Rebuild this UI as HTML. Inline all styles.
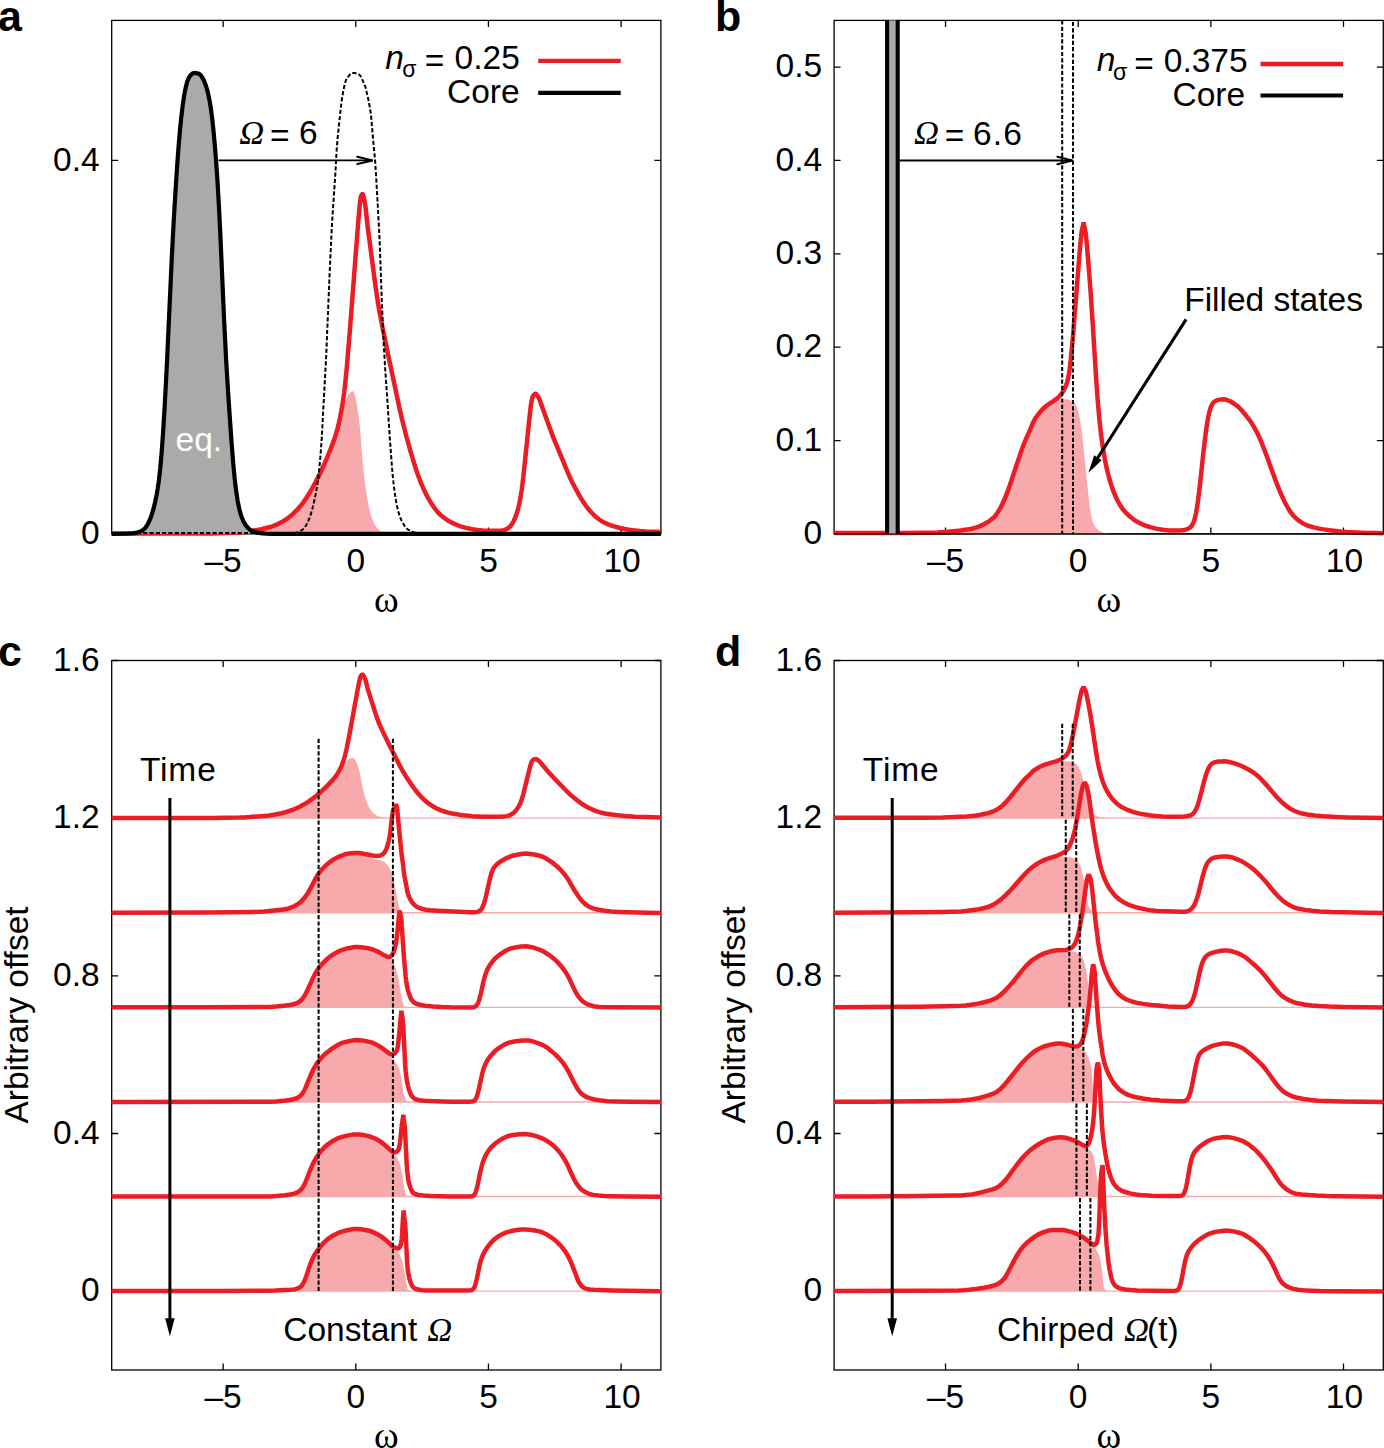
<!DOCTYPE html>
<html><head><meta charset="utf-8"><style>html,body{margin:0;padding:0;background:#fff;}svg{display:block}</style></head>
<body><svg width="1384" height="1448" viewBox="0 0 1384 1448">
<rect width="1384" height="1448" fill="#fff"/>
<rect x="111.7" y="20.4" width="549.2" height="513.5" fill="none" stroke="#000" stroke-width="1.3"/>
<path d="M223.13 20.4v6.5M223.13 533.9v-6.5M355.79 20.4v6.5M355.79 533.9v-6.5M488.45 20.4v6.5M488.45 533.9v-6.5M621.1 20.4v6.5M621.1 533.9v-6.5M111.7 533.9h6.5M660.9 533.9h-6.5M111.7 160.45h6.5M660.9 160.45h-6.5" stroke="#000" stroke-width="1.3" fill="none"/>
<rect x="834.1" y="20.4" width="549.2" height="513.5" fill="none" stroke="#000" stroke-width="1.3"/>
<path d="M945.53 20.4v6.5M945.53 533.9v-6.5M1078.19 20.4v6.5M1078.19 533.9v-6.5M1210.85 20.4v6.5M1210.85 533.9v-6.5M1343.5 20.4v6.5M1343.5 533.9v-6.5M834.1 533.9h6.5M1383.3 533.9h-6.5M834.1 440.54h6.5M1383.3 440.54h-6.5M834.1 347.17h6.5M1383.3 347.17h-6.5M834.1 253.81h6.5M1383.3 253.81h-6.5M834.1 160.45h6.5M1383.3 160.45h-6.5M834.1 67.08h6.5M1383.3 67.08h-6.5" stroke="#000" stroke-width="1.3" fill="none"/>
<rect x="111.7" y="660.5" width="549.2" height="709.5" fill="none" stroke="#000" stroke-width="1.3"/>
<path d="M223.13 660.5v6.5M223.13 1370v-6.5M355.79 660.5v6.5M355.79 1370v-6.5M488.45 660.5v6.5M488.45 1370v-6.5M621.1 660.5v6.5M621.1 1370v-6.5M111.7 1291.17h6.5M660.9 1291.17h-6.5M111.7 1133.5h6.5M660.9 1133.5h-6.5M111.7 975.83h6.5M660.9 975.83h-6.5M111.7 818.17h6.5M660.9 818.17h-6.5M111.7 660.5h6.5M660.9 660.5h-6.5" stroke="#000" stroke-width="1.3" fill="none"/>
<rect x="834.1" y="660.5" width="549.2" height="709.5" fill="none" stroke="#000" stroke-width="1.3"/>
<path d="M945.53 660.5v6.5M945.53 1370v-6.5M1078.19 660.5v6.5M1078.19 1370v-6.5M1210.85 660.5v6.5M1210.85 1370v-6.5M1343.5 660.5v6.5M1343.5 1370v-6.5M834.1 1291.17h6.5M1383.3 1291.17h-6.5M834.1 1133.5h6.5M1383.3 1133.5h-6.5M834.1 975.83h6.5M1383.3 975.83h-6.5M834.1 818.17h6.5M1383.3 818.17h-6.5M834.1 660.5h6.5M1383.3 660.5h-6.5" stroke="#000" stroke-width="1.3" fill="none"/>
<path d="M111.7 533.6L206.2 533.5L224.7 533.1L235.2 532.7L241.2 532.4L246.7 531.8L254.7 530.5L261.7 529.1L267.2 527.8L271.2 526.7L275.2 525.2L279.2 523.4L283.2 521.2L285.7 519.7L287.7 518.2L292.2 514.5L294.7 512.2L296.7 510.2L300.7 505.7L304.2 501.2L307.7 496L311.2 490.1L315.7 481.9L320.7 472L323.2 466.6L325.7 461L328.2 455L331.2 447.5L333.7 440.8L335.2 436.4L336.7 431.5L337.7 427.8L339.7 419.3L341.7 409L342.7 403L343.7 396.2L344.2 404.4L345.2 401.5L346.2 399L347.2 396.9L348.2 395.1L349.2 393.8L350.7 392.1L351.7 391.4L352.2 391.2L352.7 391.3L353.2 391.6L353.7 392.2L354.7 394L355.2 395.7L356.7 403.2L358.2 412.8L359.7 425.2L362.7 462.2L364.2 476.8L365.2 484.9L366.7 495.1L367.7 500.9L369.2 508.3L370.7 514.5L371.7 517.6L373.2 521.4L374.7 524.5L376.7 527.6L378.2 529.4L379.2 530.3L380.2 531L382.7 532.5L384.2 533L386.2 533.4L390.7 533.8L394.7 533.9L660.9 533.9 L660.9 533.9 L111.7 533.9Z" fill="#f7a9ac" stroke="none" stroke-width="0" stroke-linejoin="round" stroke-miterlimit="2.5" stroke-linecap="round" />
<path d="M111.7 533.6L193.2 533.5L212.7 533.4L226.2 533L239.2 532.5L244.2 532.1L249.7 531.3L261.2 529.2L265.2 528.3L269.2 527.3L272.2 526.3L275.2 525.2L278.7 523.6L281.7 522.1L284.7 520.3L287.2 518.6L290.2 516.3L293.2 513.6L296.2 510.7L298.7 508.1L301.2 505.1L303.7 501.9L306.2 498.3L309.2 493.5L312.2 488.3L315.7 481.9L318.7 476.1L321.7 469.9L324.7 463.3L327.2 457.4L330.2 450L332.7 443.5L334.7 437.9L336.2 433.2L337.7 427.8L338.7 423.8L340.2 416.9L341.2 411.7L342.7 403L344.2 392.3L345.2 383.8L346.7 368.6L349.7 332.6L358.2 222.3L359.7 205.6L360.2 200.6L360.7 197.4L361.2 195.9L361.7 194.7L362.2 194.1L362.7 194.2L363.2 195.3L364.2 199.4L365.2 204.8L365.7 208.6L367.7 226.9L374.7 280.2L377.2 297.9L379.2 310.2L382.2 326L388.7 357.5L399.2 406.8L402.2 420L406.2 435.8L411.2 453.7L415.7 468.4L417.7 474.3L419.7 479.7L421.7 484.6L424.2 490.3L426.7 495.4L428.7 499.1L430.7 502.4L433.2 506.2L435.7 509.6L438.2 512.6L441.2 515.6L444.2 518L448.2 520.7L452.2 522.9L457.2 525.1L462.2 526.9L466.2 527.9L472.2 529.2L477.7 530L482.7 530.4L494.7 530.8L498.7 530.8L500.7 530.7L502.2 530.5L503.7 530.1L505.2 529.6L506.7 529L508.7 527.8L509.7 526.9L510.7 525.8L512.2 523.7L513.7 521L515.2 517.6L516.2 514.9L517.2 511.9L518.2 508.3L519.2 504.2L520.2 499.3L521.7 490L523.2 478.1L529.7 415.4L530.7 406.7L531.7 400.4L532.2 398.2L532.7 396.7L533.2 395.8L534.2 394.6L534.7 394.1L535.2 393.9L535.7 393.8L536.2 394L536.7 394.5L537.2 395.2L538.7 397.8L539.7 399.9L548.2 423.8L553.2 437.1L556.2 444.5L562.2 458.8L567.2 471.2L570.2 478L572.2 482.2L575.2 487.9L578.7 494.4L581.2 498.7L583.2 501.9L585.7 505.5L588.2 508.8L590.7 511.7L593.2 514.3L596.2 517.1L599.2 519.5L601.7 521.2L604.7 522.8L607.7 524.1L611.2 525.5L615.2 526.7L620.2 528L624.7 529L629.2 529.8L634.7 530.5L640.2 531.1L645.7 531.5L654.2 531.8L660.9 532" fill="none" stroke="#ec1c24" stroke-width="4.5" stroke-linejoin="round" stroke-miterlimit="2.5" stroke-linecap="butt" />
<path d="M115 533.9L128 533.7L132 533.4L135.5 532.9L138 532.4L140.5 531.4L142.5 530.3L143.5 529.6L144.5 528.7L145.5 527.6L146.5 526.2L148 523.7L149.5 520.6L151 516.8L152.5 512.2L154 506.7L155.5 500.3L157 492.7L158 486.6L159 479.4L160.5 465.8L162 448.1L163.5 426.1L165 400.5L167 362.1L171.5 263.8L173.5 224.7L175 199.1L176.5 175.6L178 154L179.5 135.3L181 119.8L182.5 106.9L184 96.5L185 90.9L186 86.4L187.5 80.9L188.5 78.5L189.5 76.7L190.5 75.3L192 73.9L193 73.2L193.5 73L194.5 72.9L196.5 73.1L198.5 73.6L199.5 74.1L200.5 74.9L202 77.1L203.5 79.8L205 83.3L206 86.1L207 89.4L208 93.3L209 97.7L210 103L211 109.3L212 116.9L213.5 130.6L215 147.2L216 159.8L217.5 181.6L218.5 198.4L220.5 237.7L223.5 306.5L225 338.5L226.5 366.1L229 405.6L232 448.3L234 471.9L235 481.6L236 489.9L237 496.9L238.5 505.3L239.5 509.7L241 515L242.5 519.1L244 522.3L245.5 524.9L246.5 526.3L247.5 527.5L248.5 528.5L249.5 529.3L251.5 530.6L254 531.8L256.5 532.5L259.5 533L263.5 533.5L267 533.7L270.5 533.8L290 533.9 L290 533.9 L115 533.9Z" fill="#aaaaaa" stroke="none" stroke-width="0" stroke-linejoin="round" stroke-miterlimit="2.5" stroke-linecap="round" />
<path d="M111.7 533.1L293.2 533.1L295.7 532.7L297.7 532.2L300.2 531.1L302.2 529.9L303.2 529.2L304.2 528.1L305.2 526.8L306.7 524.2L308.2 521.2L309.2 518.9L310.7 514.6L312.2 509.3L313.7 503.4L315.7 494.2L317.2 485.6L318.2 478.5L319.2 469.6L320.7 452.9L321.7 438.6L326.2 355.9L329.7 271.9L331.7 229.4L332.7 212.7L335.2 176.1L336.7 149L337.7 137.1L340.7 108.7L341.7 100.3L343.2 91.5L344.7 84.3L345.7 80.9L346.2 79.7L348.2 76.6L349.7 74.8L350.7 73.9L351.7 73.2L352.2 73L353.2 72.9L355.2 73.1L357.2 73.6L358.7 74.2L359.7 75L360.7 76.4L361.7 78.2L364.2 83.8L365.2 86.5L366.2 90.1L368.2 98.9L369.7 106.6L370.7 113.2L371.2 117.3L373.2 140.7L374.7 156L375.2 162.1L376.2 177.8L378.7 222.2L379.7 242.4L381.7 298.8L383.7 344.1L385.2 369.3L387.2 397.9L389.7 436.4L391.7 463.5L392.7 475.4L393.7 484.7L395.2 496L396.7 504.8L398.2 511.1L399.2 514.6L400.2 517.5L401.7 520.9L403.2 523.6L404.2 525.3L405.7 527.3L406.7 528.4L407.7 529.3L409.7 530.5L412.2 531.7L414.2 532.4L415.7 532.7L418.7 533.1L660.7 533.1" fill="none" stroke="#000" stroke-width="2" stroke-linejoin="round" stroke-miterlimit="2.5" stroke-linecap="butt" stroke-dasharray="4.2 2.1"/>
<path d="M111.7 533.9L126.7 533.7L130.7 533.5L134.2 533.1L137.2 532.6L139.7 531.8L141.7 530.8L143.7 529.4L144.7 528.5L145.7 527.3L147.2 525.1L148.2 523.3L149.2 521.3L150.7 517.6L152.2 513.2L153.7 507.9L155.2 501.7L156.7 494.3L157.7 488.5L158.7 481.7L160.2 468.8L161.7 452L163.2 430.8L164.7 405.9L166.7 368.1L171.7 259.6L173.7 221.1L175.2 195.9L177.2 165.2L178.7 144.9L179.7 133.1L181.2 117.9L182.7 105.3L184.2 95.3L185.2 89.9L186.2 85.6L187.2 81.8L187.7 80.3L188.7 78.1L189.7 76.4L190.7 75.1L192.2 73.7L193.2 73.2L193.7 73L194.7 72.9L196.2 73.1L198.2 73.5L199.2 74L200.2 74.6L201.2 75.8L202.7 78.3L204.2 81.3L205.2 83.8L206.2 86.7L207.2 90.1L208.2 94.1L209.2 98.7L210.7 107.3L212.2 118.5L213.7 132.7L215.2 149.6L216.7 169.6L217.7 184.8L219.2 211.2L220.2 231.3L224.2 321.9L226.2 360.9L227.7 385.7L229.7 416L231.7 444.3L233.2 463.1L234.7 478.9L236.2 491.4L237.7 501.1L239.2 508.5L240.2 512.4L241.2 515.7L242.2 518.4L243.2 520.7L244.2 522.7L245.7 525.2L246.7 526.5L248.2 528.2L249.7 529.5L251.7 530.7L253.7 531.6L256.2 532.4L258.7 532.9L262.7 533.4L266.7 533.7L271.2 533.8L290.7 533.9L660.9 533.9" fill="none" stroke="#000" stroke-width="4.2" stroke-linejoin="round" stroke-miterlimit="2.5" stroke-linecap="butt" />
<text x="175.5" y="451" font-size="33.5" text-anchor="start" font-family="Liberation Sans" fill="#fff" >eq.</text>
<path d="M218.5 160.4H373" stroke="#000" stroke-width="1.8" fill="none"/>
<path d="M357.3 156.70000000000002L372.6 160.4L357.3 164.1" stroke="#000" stroke-width="2.1" fill="none" stroke-linejoin="miter" stroke-linecap="round"/>
<text x="239.2" y="144" font-size="34.5" text-anchor="start" font-family="Liberation Serif" font-style="italic">&#937;</text>
<text x="270" y="147.35" font-size="33.5" text-anchor="start" font-family="Liberation Sans" >=</text>
<text x="298.9" y="144.2" font-size="33.5" text-anchor="start" font-family="Liberation Sans" >6</text>
<text x="385.3" y="68.8" font-size="33.5" text-anchor="start" font-family="Liberation Sans" font-style="italic">n</text>
<text x="402.3" y="77.4" font-size="23" text-anchor="start" font-family="Liberation Sans" >&#963;</text>
<text x="424.8" y="71.65" font-size="33.5" text-anchor="start" font-family="Liberation Sans" >=</text>
<text x="454.6" y="69.2" font-size="33.5" text-anchor="start" font-family="Liberation Sans" >0.25</text>
<text x="447" y="103" font-size="33.5" text-anchor="start" font-family="Liberation Sans" >Core</text>
<path d="M538.2 60.9H620.7" stroke="#ec1c24" stroke-width="4.4"/>
<path d="M538.2 92.8H620.7" stroke="#000" stroke-width="4.2"/>
<path d="M834.1 533.1L908.6 532.9L928.6 532.6L938.6 532.3L943.1 532.1L948.1 531.7L962.1 530.2L966.6 529.6L970.6 528.9L974.6 527.9L978.6 526.6L982.1 525.1L985.6 523.3L988.6 521.5L991.1 519.7L993.1 518L995.1 516L996.6 514.1L998.6 511.1L1000.6 507.6L1002.6 503.6L1004.1 500.3L1005.6 496.7L1009.1 487.2L1013.1 475.7L1020.6 453.1L1023.6 444.7L1025.6 439.8L1029.6 430.9L1032.6 423.7L1034.1 420.6L1035.6 418L1037.6 415.2L1040.1 412L1042.1 409.8L1044.1 407.8L1046.6 405.7L1048.6 404.2L1055.6 399.7L1059.1 399.3L1066.6 399.3L1068.1 399.5L1070.1 400L1072.1 400.9L1073.6 401.9L1074.6 403L1076.1 405.5L1077.6 409L1078.1 410.5L1078.6 412.5L1079.6 417.3L1080.6 423L1081.6 429.8L1083.6 447.6L1089.1 502.4L1089.6 506.4L1091.1 515.3L1092.1 519.7L1092.6 521.4L1093.6 523.8L1095.1 526.5L1096.1 528L1097.6 529.6L1099.1 530.7L1101.6 532L1103.6 532.7L1106.1 533.2L1110.6 533.7L1114.6 533.9L1383.3 533.9 L1383.3 533.9 L834.1 533.9Z" fill="#f7a9ac" stroke="none" stroke-width="0" stroke-linejoin="round" stroke-miterlimit="2.5" stroke-linecap="round" />
<path d="M834.1 533.1L902.1 533L925.6 532.7L937.6 532.4L943.1 532.1L948.1 531.7L960.6 530.4L966.6 529.6L971.6 528.7L976.6 527.3L980.6 525.8L982.6 524.9L985.1 523.6L989.6 520.8L991.6 519.3L993.1 518L994.6 516.5L995.6 515.4L998.1 511.9L1000.6 507.6L1003.1 502.6L1005.1 497.9L1007.6 491.4L1010.6 483L1020.6 453.1L1023.1 446L1025.6 439.8L1029.1 432.1L1032.6 423.7L1034.1 420.6L1035.6 418L1038.1 414.5L1040.6 411.4L1043.1 408.7L1045.6 406.5L1048.1 404.5L1054.1 400.7L1056.6 398.9L1058.6 397.1L1060.1 395.6L1062.1 393L1064.1 389.7L1065.6 386.6L1066.6 383.9L1067.1 382.3L1068.1 378.3L1069.1 372.9L1070.1 365.8L1071.1 356.8L1073.1 334.6L1079.6 252.6L1080.6 241.4L1081.6 232.1L1082.1 229.1L1083.1 225.2L1083.6 222.3L1084.1 225.7L1085.1 230.1L1085.6 232.8L1086.1 236.8L1087.1 247.6L1089.1 271.9L1090.6 291.9L1092.6 322L1096.1 377.9L1097.6 398.8L1098.6 410.9L1100.1 426.3L1101.1 434.9L1102.6 445.9L1104.6 457.9L1105.6 463L1107.1 469.9L1108.1 474L1109.6 479.5L1111.1 484.4L1112.6 488.9L1114.1 492.9L1115.6 496.4L1117.1 499.7L1119.1 503.5L1120.6 505.9L1122.6 508.8L1124.6 511.3L1126.6 513.5L1129.6 516.3L1132.6 518.8L1135.6 520.8L1139.6 523.1L1143.1 524.7L1146.6 526L1151.1 527.4L1156.1 528.6L1162.6 529.7L1169.1 530.4L1174.1 530.6L1180.1 530.4L1184.1 530L1186.6 529.4L1188.1 528.8L1189.1 528.2L1190.1 527.5L1191.1 526.5L1192.1 525.2L1193.1 523.3L1194.1 520.7L1194.6 519.1L1195.6 515L1196.1 512.6L1197.1 506.9L1198.1 500.1L1199.6 487.9L1203.6 450.8L1205.6 434.2L1206.6 426.9L1207.6 420.6L1208.6 415.2L1209.6 411L1210.6 407.7L1211.6 405.4L1212.1 404.4L1213.1 403L1214.6 401.5L1216.1 400.6L1217.1 400.1L1218.1 399.9L1221.1 399.4L1224.1 399.3L1225.6 399.5L1227.1 400L1230.1 401.3L1232.6 402.8L1234.6 404L1236.6 405.5L1238.1 406.7L1240.1 408.7L1242.1 410.8L1246.6 416.2L1250.1 420.9L1253.6 426.3L1255.6 429.8L1257.6 433.6L1259.6 438L1261.6 442.7L1266.6 455.6L1273.1 473.8L1275.6 480.6L1279.6 490.7L1282.6 497.6L1284.6 501.7L1286.6 505.5L1288.6 509L1290.1 511.4L1291.6 513.5L1293.1 515.4L1295.1 517.4L1297.1 519.2L1299.6 521.2L1302.1 522.9L1304.6 524.2L1307.1 525.3L1310.6 526.5L1314.6 527.6L1319.1 528.6L1323.6 529.4L1329.6 530.3L1336.1 531.1L1341.6 531.7L1347.1 532.1L1366.6 532.9L1375.1 533.1L1383.3 533.2" fill="none" stroke="#ec1c24" stroke-width="4.5" stroke-linejoin="miter" stroke-miterlimit="2.5" stroke-linecap="butt" />
<path d="M834.1 533.9H1383.3" stroke="#000" stroke-width="1.3"/>
<rect x="888.8" y="20.4" width="7.2" height="513" fill="#aaaaaa"/>
<path d="M887.1 533.4V20.4M897.7 20.4V533.4" stroke="#000" stroke-width="4.1" fill="none"/>
<path d="M1062.2 20.4V533.9" stroke="#000" stroke-width="2" stroke-dasharray="4.2 2.1" fill="none"/>
<path d="M1073 21.9V533.9" stroke="#000" stroke-width="2" stroke-dasharray="4.2 2.1" fill="none"/>
<path d="M899.5 160.5H1072.5" stroke="#000" stroke-width="1.8" fill="none"/>
<path d="M1057.4 156.8L1072.3 160.5L1057.4 164.2" stroke="#000" stroke-width="2.1" fill="none" stroke-linejoin="miter" stroke-linecap="round"/>
<text x="913.9" y="144" font-size="34.5" text-anchor="start" font-family="Liberation Serif" font-style="italic">&#937;</text>
<text x="944.8" y="147.3" font-size="33.5" text-anchor="start" font-family="Liberation Sans" >=</text>
<text x="973" y="144.5" font-size="33.5" text-anchor="start" font-family="Liberation Sans" letter-spacing="1.2">6.6</text>
<text x="1096.8" y="71.2" font-size="33.5" text-anchor="start" font-family="Liberation Sans" font-style="italic">n</text>
<text x="1113.1" y="80.3" font-size="23" text-anchor="start" font-family="Liberation Sans" >&#963;</text>
<text x="1134.2" y="74.6" font-size="33.5" text-anchor="start" font-family="Liberation Sans" >=</text>
<text x="1163.8" y="71.7" font-size="33.5" text-anchor="start" font-family="Liberation Sans" >0.375</text>
<text x="1172.5" y="105.5" font-size="33.5" text-anchor="start" font-family="Liberation Sans" >Core</text>
<path d="M1260.5 64H1343.1" stroke="#ec1c24" stroke-width="4.4"/>
<path d="M1260.5 95.5H1343.1" stroke="#000" stroke-width="4.2"/>
<text x="1184.2" y="311.3" font-size="33.5" text-anchor="start" font-family="Liberation Sans" >Filled states</text>
<path d="M1186.1 319.4L1097 459" stroke="#000" stroke-width="3.1" fill="none"/>
<path d="M1088.4 472.7L1094.2 455.3L1097.5 457.5L1101.7 460.2Z" fill="#000"/>
<path d="M111.7 818L206.2 818L224.7 817.8L241.2 817.5L246.7 817.3L254.7 816.7L267.2 815.6L271.2 815.1L275.2 814.5L279.2 813.7L283.2 812.8L287.7 811.6L292.2 810L296.7 808.2L300.7 806.3L304.2 804.4L307.7 802.2L311.2 799.7L315.7 796.2L320.7 792L325.7 787.4L331.2 781.7L333.7 778.9L335.2 777L336.7 774.9L337.7 773.4L339.7 769.8L341.7 765.4L342.7 762.9L343.7 760L344.2 763.5L345.2 762.3L346.2 761.2L348.2 759.6L350.7 758.3L352.2 757.9L352.7 757.9L353.7 758.3L354.7 759.1L355.2 759.8L356.7 763L358.2 767L359.7 772.3L362.7 787.9L364.2 794.1L365.2 797.5L366.7 801.8L367.7 804.2L369.2 807.4L370.7 810L371.7 811.3L373.2 812.9L374.7 814.2L376.7 815.5L378.2 816.3L380.2 817L382.7 817.6L384.2 817.8L386.2 817.9L394.7 818.2L660.9 818.2 L660.9 818.17 L111.7 818.17Z" fill="#f7a9ac" stroke="none" stroke-width="0" stroke-linejoin="round" stroke-miterlimit="2.5" stroke-linecap="round" />
<path d="M111.7 818.17H660.9" stroke="#f7a9ac" stroke-width="1.4"/>
<path d="M111.7 818L212.7 817.9L239.2 817.6L244.2 817.4L249.7 817.1L261.2 816.2L269.2 815.4L275.2 814.5L281.7 813.2L287.2 811.7L293.2 809.6L298.7 807.3L303.7 804.6L306.2 803.1L309.2 801.1L315.7 796.2L318.7 793.8L321.7 791.1L327.2 785.9L332.7 780L334.7 777.6L336.2 775.7L337.7 773.4L338.7 771.7L340.2 768.8L341.2 766.6L342.7 762.9L344.2 758.4L345.2 754.8L346.7 748.4L349.7 733.2L358.2 686.6L359.7 679.6L360.2 677.4L360.7 676.1L361.7 675L362.2 674.7L362.7 674.7L363.2 675.2L364.2 677L365.2 679.2L365.7 680.8L367.7 688.6L374.7 711.1L377.2 718.5L379.2 723.7L382.2 730.4L388.7 743.7L399.2 764.5L402.2 770.1L406.2 776.7L411.2 784.3L415.7 790.5L417.7 793L419.7 795.3L421.7 797.4L424.2 799.8L426.7 801.9L428.7 803.5L430.7 804.9L433.2 806.5L435.7 807.9L438.2 809.2L441.2 810.4L444.2 811.5L448.2 812.6L452.2 813.5L457.2 814.4L462.2 815.2L466.2 815.6L472.2 816.2L477.7 816.5L482.7 816.7L494.7 816.8L500.7 816.8L503.7 816.6L506.7 816.1L508.7 815.6L510.7 814.7L512.2 813.8L513.7 812.7L515.2 811.3L516.2 810.2L518.2 807.4L519.2 805.6L520.2 803.6L521.7 799.6L523.2 794.6L529.7 768.2L530.7 764.5L531.7 761.8L532.2 760.9L532.7 760.2L533.2 759.9L534.2 759.3L535.2 759L535.7 759L536.2 759.1L537.2 759.6L538.7 760.7L539.7 761.6L548.2 771.7L553.2 777.3L556.2 780.4L562.2 786.5L567.2 791.7L570.2 794.6L575.2 798.8L581.2 803.3L585.7 806.2L588.2 807.6L590.7 808.8L593.2 809.9L596.2 811.1L599.2 812.1L601.7 812.8L604.7 813.5L607.7 814L615.2 815.1L624.7 816.1L634.7 816.7L645.7 817.1L660.9 817.4" fill="none" stroke="#ec1c24" stroke-width="4.5" stroke-linejoin="miter" stroke-miterlimit="2.5" stroke-linecap="butt" />
<path d="M111.7 912.7L207.2 912.5L229.2 912.4L249.7 912.1L260.2 911.6L270.2 910.9L280.7 909.9L284.2 909.3L287.2 908.7L289.2 908.2L291.7 907.3L294.2 906.2L296.2 905.2L298.2 903.9L299.7 902.8L301.2 901.4L302.7 899.9L305.2 896.9L306.7 894.7L308.2 892.4L311.2 887L316.2 877.4L317.2 875.7L318.7 873.4L320.7 870.8L323.2 868L326.2 865.1L328.7 862.9L331.7 860.7L335.2 858.5L339.2 856.5L343.7 854.7L346.2 854L348.7 853.5L352.7 853.1L356.7 853L359.2 853.1L361.7 853.4L369.7 854.9L370.2 857.3L375.2 859.1L380.7 860.6L383.2 861.5L384.2 862.1L385.2 862.9L386.2 863.8L387.7 865.5L389.2 867.5L390.2 869.2L391.2 871.3L392.2 874.3L393.2 878.3L394.7 885.1L396.7 895.3L398.2 904L398.7 906.3L399.2 907.8L400.2 909.8L401.2 911.1L402.7 912.1L404.2 912.7L405.2 912.8L648.2 912.8L660.9 913 L660.9 912.77 L111.7 912.77Z" fill="#f7a9ac" stroke="none" stroke-width="0" stroke-linejoin="round" stroke-miterlimit="2.5" stroke-linecap="round" />
<path d="M111.7 912.77H660.9" stroke="#f7a9ac" stroke-width="1.4"/>
<path d="M111.7 912.7L208.2 912.5L231.7 912.3L251.7 912L258.2 911.8L264.7 911.4L271.7 910.8L279.2 910L283.2 909.5L286.2 909L288.7 908.3L291.2 907.5L294.7 906L297.7 904.2L299.2 903.2L300.7 901.9L303.2 899.4L305.7 896.2L308.2 892.4L311.2 887L316.2 877.4L317.7 874.9L319.7 872L322.7 868.5L324.7 866.5L326.7 864.6L330.2 861.8L332.2 860.4L334.2 859.1L338.2 857L342.7 855.1L344.7 854.4L346.2 854L349.2 853.4L354.7 853.1L357.2 853L359.2 853.1L363.2 853.7L372.7 855.5L375.2 855.8L377.2 855.9L379.2 855.8L380.7 855.4L382.2 854.6L383.7 853.4L384.7 852.1L385.2 851.4L386.2 849.4L387.2 846.6L388.7 841L389.7 836.2L390.2 833.2L391.7 819.6L392.7 812.4L393.2 810.2L393.7 808.8L395.2 806.1L395.7 805L396 804.1L396.2 805L396.7 806.5L397.2 809L398.2 820.2L401.2 850.4L401.7 854.9L403.2 865.5L403.7 870.8L404.2 874.6L407.2 890.6L407.7 892.9L408.7 895.8L410.2 899.1L411.2 900.8L412.7 903L414.2 904.7L415.7 906L417.2 907L419.2 908L422.2 909L425.7 909.7L430.2 910.2L437.2 910.7L464.7 912.1L469.7 912.3L472.7 912.3L475.2 912.2L477.2 911.9L478.7 911.4L479.7 910.8L480.2 910.4L481.2 909.3L482.2 907.8L482.7 906.8L483.7 904.4L484.7 901.3L485.7 897.5L489.7 879.5L491.2 874L492.2 871.2L493.2 869L494.2 867.4L495.2 866.1L496.2 865L497.7 863.6L500.7 861.4L502.7 860.2L505.2 858.8L507.7 857.6L509.7 856.8L511.7 856L513.7 855.5L518.7 854.4L522.7 853.8L526.7 853.6L530.2 853.9L534.2 854.5L538.7 855.5L541.7 856.4L545.2 858.1L549.2 860.5L552.7 862.9L555.7 865.3L558.7 868L561.2 870.5L563.7 873.3L566.2 876.5L567.7 878.7L569.2 881.1L573.7 889L576.2 893.1L578.7 896.8L580.7 899.4L583.2 902.2L585.7 904.5L587.7 905.9L590.2 907.2L592.2 908.1L594.2 908.7L596.2 909.3L598.7 909.8L604.7 910.8L611.2 911.5L618.2 911.9L628.7 912.3L646.7 912.7L660.9 913" fill="none" stroke="#ec1c24" stroke-width="4.5" stroke-linejoin="miter" stroke-miterlimit="2.5" stroke-linecap="butt" />
<path d="M111.7 1007.3L204.7 1007.2L269.2 1006.9L275.2 1006.6L283.2 1005.8L289.2 1005.1L293.7 1004.2L296.2 1003.4L297.7 1002.7L298.7 1002.1L300.2 1001L301.2 1000.1L303.2 997.7L304.7 995.5L306.7 991.8L313.2 977.5L315.2 973.6L316.7 971L318.7 968L320.7 965.5L323.7 962.3L326.7 959.4L329.7 956.9L332.7 954.7L336.7 952.4L340.2 950.7L344.2 949.3L349.7 947.9L353.2 947.3L356.7 947.1L361.7 947.4L367.2 948.1L370.7 948.9L374.2 950.1L376.7 951.1L379.2 952.4L384.7 955.6L385.2 957.3L386.7 957.8L388.7 958.8L391.2 960.4L392.2 961.3L392.7 961.9L393.7 963.6L395.2 967.1L396.7 971.5L397.7 975.3L398.7 980L401.7 999L402.7 1002.8L403.7 1005.7L404.2 1006.6L404.7 1006.9L405.7 1007.1L406.7 1007.3L408.2 1007.4L459.7 1007.4L469.7 1007.4L472.7 1007.4L619.7 1007.4L660.9 1007.5 L660.9 1007.37 L111.7 1007.37Z" fill="#f7a9ac" stroke="none" stroke-width="0" stroke-linejoin="round" stroke-miterlimit="2.5" stroke-linecap="round" />
<path d="M111.7 1007.37H660.9" stroke="#f7a9ac" stroke-width="1.4"/>
<path d="M111.7 1007.3L205.2 1007.2L269.7 1006.9L276.2 1006.5L285.7 1005.6L291.2 1004.8L293.2 1004.3L295.2 1003.8L296.7 1003.2L297.7 1002.7L299.7 1001.4L301.7 999.6L302.7 998.4L303.7 997L305.2 994.6L307.2 990.8L312.7 978.6L315.2 973.6L317.7 969.4L320.2 966.1L322.2 963.9L324.7 961.3L327.2 959L329.2 957.3L331.2 955.8L333.2 954.4L335.7 952.9L338.2 951.6L340.7 950.5L343.2 949.6L347.2 948.4L350.7 947.7L353.2 947.3L355.2 947.1L357.7 947.1L360.7 947.3L364.7 947.8L368.2 948.3L370.7 948.9L372.7 949.5L375.2 950.5L378.2 951.9L380.2 952.9L384.7 955.6L386.2 956.3L387.2 956.7L388.2 956.9L389.2 956.9L390.2 956.6L390.7 956.2L391.2 955.8L392.2 954.6L393.2 952.9L393.7 951.8L394.7 948.7L395.7 944.8L396.2 941.7L397.2 934.1L397.7 929.5L398.7 918.1L399.7 910.6L400.2 913.7L401.2 918.2L401.4 919.8L401.7 925.9L404.2 960.4L405.7 977L406.2 981L406.7 984L407.7 989L408.2 991.1L409.7 995.7L410.7 998.2L411.7 999.9L413.2 1001.7L414.7 1002.8L415.7 1003.4L417.2 1004L420.7 1005L425.2 1005.7L433.2 1006.5L441.7 1007L450.7 1007.3L470.7 1007.4L473.2 1007.3L474.2 1007L475.2 1006.6L476.2 1005.9L477.2 1004.6L478.2 1002.7L479.2 999.9L480.7 994.2L483.2 982.7L484.2 978.6L485.2 975.1L486.2 972.2L487.2 969.8L488.7 966.9L490.7 963.8L492.7 961.2L494.2 959.5L495.7 958L497.2 956.7L499.2 955.1L501.7 953.3L504.2 951.6L506.2 950.5L508.2 949.5L509.7 948.9L511.7 948.3L516.2 947.3L521.2 946.6L523.7 946.4L525.7 946.3L527.7 946.5L529.2 946.7L532.7 947.4L537.7 949L541.7 950.6L545.2 952.5L549.2 955L552.7 957.7L555.7 960.3L558.7 963.4L561.2 966.2L563.7 969.4L566.2 973.1L567.7 975.6L569.2 978.4L575.2 991.1L576.7 993.8L578.7 996.9L580.7 999.3L582.7 1001.3L584.7 1002.7L587.2 1004.1L590.2 1005.2L593.7 1006.2L597.2 1006.8L600.7 1007.1L615.2 1007.3L660.9 1007.5" fill="none" stroke="#ec1c24" stroke-width="4.5" stroke-linejoin="miter" stroke-miterlimit="2.5" stroke-linecap="butt" />
<path d="M111.7 1101.9L270.2 1101.7L275.7 1101.5L284.2 1100.6L289.7 1099.9L293.7 1099.1L296.2 1098.3L297.7 1097.6L298.7 1097L299.7 1096.3L300.7 1095.4L301.7 1094.4L302.7 1093L303.7 1091.4L305.2 1088.5L306.7 1085.1L311.2 1074L312.7 1070.8L314.7 1067L316.7 1063.8L319.2 1060.3L321.7 1057.4L324.7 1054.4L328.2 1051.4L332.2 1048.4L336.7 1045.5L340.2 1043.7L343.7 1042.5L349.2 1041.1L353.2 1040.4L355.2 1040.2L357.2 1040.1L359.7 1040.2L362.2 1040.5L365.2 1041L368.7 1041.7L370.7 1042.2L372.7 1042.9L374.7 1043.8L376.7 1044.8L381.2 1047.6L384.7 1050.1L385.2 1051.4L391.7 1057.8L394.2 1060.6L396.2 1063.2L397.2 1064.8L398.2 1066.6L399.2 1069.1L400.2 1072.7L401.4 1078.4L403.2 1090.9L404.7 1097.5L405.2 1099.2L405.7 1100.2L406.7 1101.1L407.7 1101.7L408.2 1101.9L409.2 1102L660.9 1102 L660.9 1101.97 L111.7 1101.97Z" fill="#f7a9ac" stroke="none" stroke-width="0" stroke-linejoin="round" stroke-miterlimit="2.5" stroke-linecap="round" />
<path d="M111.7 1101.97H660.9" stroke="#f7a9ac" stroke-width="1.4"/>
<path d="M111.7 1101.9L270.2 1101.7L276.2 1101.4L286.2 1100.4L291.2 1099.7L293.2 1099.2L295.2 1098.7L296.7 1098.1L297.7 1097.6L299.7 1096.3L300.7 1095.4L301.7 1094.4L303.2 1092.3L304.2 1090.5L305.7 1087.4L310.7 1075.2L313.2 1069.8L314.7 1067L316.2 1064.5L317.7 1062.3L319.7 1059.7L321.7 1057.4L323.7 1055.3L325.7 1053.5L328.2 1051.4L331.2 1049.1L334.7 1046.8L337.2 1045.3L339.7 1044L342.2 1042.9L345.7 1041.9L349.7 1041L353.2 1040.4L356.2 1040.1L358.7 1040.2L361.7 1040.4L364.7 1040.9L368.2 1041.6L370.7 1042.2L372.7 1042.9L375.2 1044L377.7 1045.4L380.7 1047.2L383.2 1048.9L387.7 1052.3L389.2 1053.3L390.7 1054.1L391.7 1054.4L392.7 1054.4L393.7 1054.1L394.2 1053.9L394.7 1053.5L395.7 1052.2L396.7 1050.6L397.2 1049.4L397.7 1046.8L398.7 1038.9L399.2 1034.1L400.2 1022.8L401.2 1013.5L401.4 1010.7L401.7 1013.4L402.7 1019.4L403.2 1025.2L405.2 1065.2L405.7 1071.2L406.7 1079.4L407.7 1084.5L408.7 1088.6L409.7 1091.7L410.7 1094.2L411.7 1095.9L412.2 1096.6L413.2 1097.6L414.7 1098.7L416.2 1099.4L417.7 1099.9L419.2 1100.2L424.2 1100.7L430.7 1101.1L441.7 1101.5L451.2 1101.7L469.2 1101.7L472.2 1101.6L473.7 1101.1L474.7 1100.4L475.7 1099L476.7 1096.9L477.2 1095.5L478.7 1089.9L482.2 1073.7L483.2 1069.9L484.2 1066.9L485.7 1063.4L487.2 1060.6L489.2 1057.7L491.2 1055.1L494.2 1051.9L495.7 1050.5L497.7 1048.9L499.7 1047.5L502.2 1045.9L504.2 1044.7L506.2 1043.7L507.7 1043.1L509.7 1042.5L514.2 1041.5L520.2 1040.7L522.7 1040.5L525.2 1040.4L528.7 1040.6L530.7 1041L532.7 1041.4L537.7 1043L542.2 1044.8L544.7 1046.1L547.7 1048.1L551.2 1050.9L554.7 1053.9L557.7 1056.8L560.7 1060.1L563.2 1063.2L565.7 1066.8L568.2 1071.1L572.7 1080L575.2 1084.7L577.2 1088.2L579.2 1091.2L580.7 1093L582.2 1094.4L584.2 1095.8L586.7 1097.1L590.2 1098.4L594.7 1099.5L601.2 1100.6L607.2 1101.2L613.2 1101.4L630.2 1101.8L660.9 1102" fill="none" stroke="#ec1c24" stroke-width="4.5" stroke-linejoin="miter" stroke-miterlimit="2.5" stroke-linecap="butt" />
<path d="M111.7 1196.6L223.2 1196.6L269.7 1196.5L275.2 1196.2L282.7 1195.5L288.7 1194.7L293.2 1193.9L296.2 1192.9L297.7 1192.2L298.7 1191.6L300.7 1189.9L301.7 1188.8L302.7 1187.5L304.2 1184.9L305.2 1182.9L306.7 1179.3L309.7 1171.3L311.2 1167.6L312.7 1164.3L314.7 1160.4L317.2 1156.2L319.7 1152.7L322.2 1149.7L325.2 1146.7L328.2 1144.1L331.7 1141.7L335.7 1139.4L339.2 1137.8L343.2 1136.6L349.2 1135.2L353.2 1134.6L357.2 1134.4L359.2 1134.5L361.7 1134.8L364.2 1135.2L367.2 1135.9L370.2 1136.7L372.2 1137.3L374.2 1138.1L376.2 1139.1L380.2 1141.5L382.2 1142.9L384.2 1144.5L385.2 1145.5L386.7 1147.5L388.2 1149.4L390.2 1151.5L391.7 1152.7L394.7 1154.5L395.7 1155.4L396.7 1156.8L398.2 1159.9L399.7 1163.8L400.7 1167.4L402.2 1174.4L403.7 1184.6L404.7 1190.3L405.2 1192.8L405.7 1194.5L406.2 1195.2L407.2 1196L408.2 1196.4L408.7 1196.5L637.7 1196.6L660.9 1196.7 L660.9 1196.57 L111.7 1196.57Z" fill="#f7a9ac" stroke="none" stroke-width="0" stroke-linejoin="round" stroke-miterlimit="2.5" stroke-linecap="round" />
<path d="M111.7 1196.57H660.9" stroke="#f7a9ac" stroke-width="1.4"/>
<path d="M111.7 1196.6L224.7 1196.6L270.2 1196.4L276.2 1196.1L285.2 1195.2L290.2 1194.5L294.2 1193.6L296.7 1192.7L298.2 1191.9L299.2 1191.2L300.2 1190.4L301.2 1189.4L302.2 1188.2L303.2 1186.7L304.2 1184.9L305.7 1181.7L310.2 1170L312.7 1164.3L314.2 1161.3L316.2 1157.8L318.2 1154.7L320.2 1152L322.2 1149.7L324.2 1147.6L326.2 1145.8L328.2 1144.1L330.7 1142.3L333.2 1140.8L335.7 1139.4L338.2 1138.2L341.2 1137.1L345.2 1136.1L349.7 1135.1L353.7 1134.6L356.7 1134.4L359.7 1134.5L362.7 1134.9L366.2 1135.6L369.7 1136.5L372.7 1137.5L375.2 1138.6L378.2 1140.2L381.2 1142.2L383.7 1144.1L385.7 1145.8L390.2 1149.9L391.7 1151.1L392.7 1151.8L393.7 1152.2L394.7 1152.4L395.7 1152.2L396.7 1151.6L398.2 1150.1L398.7 1149.1L399.2 1147.4L399.7 1144.7L400.2 1141.5L401.7 1125.8L402.7 1119.7L403.3 1114.7L403.7 1119L404.7 1126L405.2 1132.5L405.7 1144.3L406.7 1163.7L407.2 1170.8L408.2 1178.9L408.7 1181.8L409.2 1183.8L410.7 1188.4L411.7 1190.6L412.2 1191.5L413.2 1192.8L414.2 1193.6L415.7 1194.3L418.7 1195L423.2 1195.5L430.2 1196L439.7 1196.3L448.7 1196.5L469.2 1196.5L471.7 1196.3L472.7 1196L473.2 1195.8L474.2 1195L474.7 1194.2L475.7 1192.1L476.2 1190.6L477.7 1184.7L480.2 1172.5L481.2 1168.2L482.2 1164.4L483.2 1161.2L484.7 1157.4L486.2 1154.4L488.2 1151.2L490.2 1148.5L491.7 1146.8L493.7 1144.8L495.2 1143.5L497.2 1142L499.2 1140.6L501.7 1139.1L504.2 1137.7L506.2 1136.8L509.2 1135.8L513.2 1135.1L519.7 1134.3L525.2 1134.1L528.7 1134.4L530.7 1134.7L532.7 1135.2L537.7 1136.7L542.7 1138.6L545.7 1140.2L548.7 1142L552.2 1144.6L555.2 1147.3L557.7 1149.9L559.7 1152.3L562.2 1155.8L564.7 1159.7L566.2 1162.3L567.7 1165.3L571.7 1174.3L573.7 1178.5L575.7 1182.1L577.7 1185.2L579.7 1187.8L581.7 1189.8L583.7 1191.2L586.7 1192.8L589.7 1194L591.2 1194.5L593.2 1194.9L598.2 1195.5L604.7 1196L611.2 1196.2L628.7 1196.5L660.9 1196.7" fill="none" stroke="#ec1c24" stroke-width="4.5" stroke-linejoin="miter" stroke-miterlimit="2.5" stroke-linecap="butt" />
<path d="M111.7 1291.1L223.2 1290.9L268.7 1290.7L275.2 1290.5L290.2 1289.7L293.7 1289.4L296.2 1288.9L298.2 1288.2L299.2 1287.7L300.2 1287L301.7 1285.5L303.2 1283.4L304.2 1281.5L305.2 1279.2L306.7 1275L310.2 1264.3L311.7 1260.4L313.2 1257.2L315.2 1253.7L317.7 1250.1L321.2 1245.5L324.2 1242.2L327.2 1239.5L330.7 1237L334.7 1234.7L338.7 1232.8L340.7 1232L342.7 1231.3L348.2 1230L352.2 1229.3L354.2 1229.1L356.2 1229L358.7 1229.1L361.2 1229.4L364.2 1229.8L367.7 1230.5L369.7 1231L371.7 1231.6L375.2 1233.1L379.2 1235.2L382.7 1237.6L386.2 1240.4L392.2 1245.9L393.7 1247L395.7 1248.1L398.2 1251.6L399.2 1253.3L400.7 1256.7L401.7 1259.5L402.7 1263.1L404.2 1270L405.7 1279.6L407.2 1287.8L407.7 1289.5L408.2 1290L409.2 1290.7L410.2 1291.1L411.2 1291.2L660.9 1291.2 L660.9 1291.17 L111.7 1291.17Z" fill="#f7a9ac" stroke="none" stroke-width="0" stroke-linejoin="round" stroke-miterlimit="2.5" stroke-linecap="round" />
<path d="M111.7 1291.17H660.9" stroke="#f7a9ac" stroke-width="1.4"/>
<path d="M111.7 1291.1L223.2 1290.9L268.7 1290.7L275.2 1290.5L290.2 1289.7L293.7 1289.4L296.2 1288.9L298.2 1288.2L299.2 1287.7L300.2 1287L301.7 1285.5L303.2 1283.4L304.2 1281.5L305.7 1277.9L310.2 1264.3L312.2 1259.3L313.7 1256.3L315.2 1253.7L316.7 1251.5L319.2 1248.1L321.7 1244.9L323.7 1242.7L325.7 1240.8L327.7 1239.1L330.2 1237.3L332.7 1235.8L336.2 1233.9L339.2 1232.5L342.7 1231.3L347.2 1230.2L351.2 1229.4L354.2 1229.1L357.2 1229L360.7 1229.3L365.2 1230L369.2 1230.8L371.7 1231.6L374.7 1232.9L377.7 1234.4L380.7 1236.2L382.7 1237.6L385.2 1239.5L387.2 1241.3L391.7 1245.5L393.2 1246.7L394.2 1247.3L395.7 1247.9L397.2 1248.2L398.2 1248.2L398.7 1248.1L399.2 1247.8L399.7 1247.2L400.7 1245L401.2 1242.8L401.7 1239.2L402.2 1233.7L402.7 1223.2L403.6 1210.4L404.2 1216.8L405.2 1224.9L405.7 1232.9L406.2 1244L407.2 1262.5L407.7 1269.4L408.2 1272.7L409.2 1277.8L409.7 1279.8L410.7 1282.6L412.2 1285.8L413.2 1287.2L414.2 1288.1L415.2 1288.7L416.7 1289.3L419.2 1289.8L422.2 1290.2L425.7 1290.4L430.2 1290.5L446.7 1290.6L468.2 1290.5L470.7 1290.3L471.7 1290.1L472.2 1289.8L473.2 1289L473.7 1288.4L474.7 1286.4L475.2 1285L475.7 1283.4L476.7 1279.2L479.7 1264.8L480.7 1261L482.2 1256.7L483.7 1253.3L485.7 1249.7L488.2 1246.1L490.7 1243.1L493.7 1240L495.2 1238.7L496.7 1237.5L498.7 1236.2L500.7 1235.1L503.2 1233.8L505.2 1232.9L507.2 1232.2L509.2 1231.6L511.7 1231L515.2 1230.3L520.7 1229.6L525.2 1229.4L529.7 1229.7L534.7 1230.4L539.2 1231.4L541.2 1232L542.7 1232.6L544.7 1233.5L546.7 1234.5L551.2 1237.3L554.7 1239.9L558.2 1243.1L561.2 1246.3L563.7 1249.4L566.2 1253L568.7 1257.4L570.2 1260.4L571.7 1263.8L573.2 1267.6L577.2 1278.4L578.2 1280.7L579.2 1282.7L580.2 1284.3L581.7 1286.1L583.2 1287.4L584.7 1288.3L586.7 1288.9L589.7 1289.4L594.2 1289.8L599.2 1290L611.7 1290.4L660.9 1291.2" fill="none" stroke="#ec1c24" stroke-width="4.5" stroke-linejoin="miter" stroke-miterlimit="2.5" stroke-linecap="butt" />
<path d="M318.6 738.7V1291.17M392.9 738.7V1291.17" stroke="#000" stroke-width="2" stroke-dasharray="4.2 2.1" fill="none"/>
<path d="M169.9 798.1V1320" stroke="#000" stroke-width="3" fill="none"/>
<path d="M165.1 1318.2H174.7L169.9 1336.3Z" fill="#000"/>
<text x="139.9" y="781.2" font-size="33.5" text-anchor="start" font-family="Liberation Sans" letter-spacing="0.9">Time</text>
<text x="283.2" y="1341.2" font-size="33.5" text-anchor="start" font-family="Liberation Sans" >Constant</text>
<text x="427.2" y="1341.1" font-size="34.5" text-anchor="start" font-family="Liberation Serif" font-style="italic">&#937;</text>
<path d="M834.1 817.8L908.6 817.8L928.6 817.6L943.1 817.4L962.1 816.6L970.6 816L974.6 815.6L978.6 815.1L982.1 814.5L985.6 813.7L991.1 812.2L993.1 811.5L995.1 810.6L996.6 809.8L998.6 808.5L1000.6 807.1L1002.6 805.4L1005.6 802.4L1009.1 798.5L1013.1 793.6L1020.6 784.1L1023.6 780.5L1025.6 778.4L1029.6 774.7L1032.6 771.6L1034.1 770.3L1035.6 769.3L1037.6 768L1040.1 766.7L1044.1 764.9L1048.6 763.4L1055.6 761.5L1059.1 761.3L1066.6 761.3L1068.1 761.4L1070.1 761.6L1073.6 762.4L1074.6 762.9L1076.1 764L1077.6 765.4L1078.1 766.1L1078.6 766.9L1079.6 768.9L1080.6 771.3L1081.6 774.2L1083.6 781.7L1089.1 804.9L1089.6 806.6L1091.1 810.3L1092.1 812.2L1092.6 812.9L1093.6 813.9L1095.1 815.1L1096.1 815.7L1097.6 816.4L1099.1 816.8L1101.6 817.4L1103.6 817.6L1106.1 817.9L1110.6 818.1L1114.6 818.2L1383.3 818.2 L1383.3 818.17 L834.1 818.17Z" fill="#f7a9ac" stroke="none" stroke-width="0" stroke-linejoin="round" stroke-miterlimit="2.5" stroke-linecap="round" />
<path d="M834.1 818.17H1383.3" stroke="#f7a9ac" stroke-width="1.4"/>
<path d="M834.1 817.8L902.1 817.8L925.6 817.7L943.1 817.4L960.6 816.7L966.6 816.4L971.6 816L976.6 815.4L980.6 814.8L985.1 813.8L989.6 812.6L993.1 811.5L995.6 810.3L998.1 808.9L1000.6 807.1L1003.1 804.9L1005.1 803L1007.6 800.2L1010.6 796.7L1020.6 784.1L1023.1 781.1L1025.6 778.4L1029.1 775.2L1032.6 771.6L1034.1 770.3L1035.6 769.3L1038.1 767.8L1040.6 766.4L1043.1 765.3L1045.6 764.4L1048.1 763.6L1056.6 761.2L1058.6 760.4L1060.1 759.8L1062.1 758.7L1064.1 757.3L1065.6 756L1067.1 754.2L1068.1 752.5L1069.1 750.2L1070.1 747.2L1071.1 743.4L1073.1 734L1079.6 699.4L1080.6 694.7L1081.6 690.7L1082.1 689.5L1083.1 687.8L1083.6 686.6L1084.1 688.1L1085.6 691.1L1086.1 692.7L1087.1 697.3L1089.1 707.6L1090.6 716L1092.6 728.7L1096.1 752.3L1097.6 761.1L1098.6 766.2L1100.1 772.7L1101.1 776.4L1102.6 781L1104.6 786.1L1105.6 788.2L1107.1 791.1L1109.6 795.2L1111.1 797.3L1112.6 799.2L1115.6 802.4L1117.1 803.7L1119.1 805.3L1120.6 806.4L1122.6 807.6L1126.6 809.5L1129.6 810.7L1132.6 811.8L1135.6 812.6L1139.6 813.6L1143.1 814.3L1146.6 814.8L1151.1 815.4L1156.1 815.9L1162.6 816.4L1169.1 816.7L1174.1 816.8L1180.1 816.7L1184.1 816.5L1186.6 816.3L1189.1 815.8L1191.1 815.1L1192.1 814.5L1193.1 813.7L1194.6 811.9L1196.1 809.2L1197.1 806.8L1198.1 803.9L1199.6 798.8L1203.6 783.1L1205.6 776.1L1206.6 773L1207.6 770.3L1208.6 768.1L1209.6 766.3L1210.6 764.9L1211.6 763.9L1213.1 762.9L1214.6 762.3L1216.1 761.9L1218.1 761.6L1221.1 761.4L1224.1 761.3L1227.1 761.6L1230.1 762.2L1234.6 763.3L1238.1 764.5L1242.1 766.2L1246.6 768.5L1250.1 770.5L1253.6 772.7L1255.6 774.2L1257.6 775.8L1259.6 777.7L1261.6 779.7L1266.6 785.1L1275.6 795.7L1279.6 799.9L1282.6 802.8L1286.6 806.2L1290.1 808.7L1293.1 810.3L1297.1 812L1299.6 812.8L1302.1 813.5L1307.1 814.5L1314.6 815.5L1323.6 816.3L1336.1 817L1347.1 817.4L1366.6 817.8L1383.3 817.9" fill="none" stroke="#ec1c24" stroke-width="4.5" stroke-linejoin="miter" stroke-miterlimit="2.5" stroke-linecap="butt" />
<path d="M834.1 912.7L872.6 912.6L913.1 912.4L935.6 912.1L955.1 911.6L962.6 911.3L969.1 910.7L977.1 909.5L980.6 908.9L983.6 908.2L988.1 906.8L990.1 906.1L992.6 905L994.6 903.9L996.6 902.7L998.1 901.7L1000.1 900.1L1005.6 895.1L1010.6 890.1L1013.6 886.8L1021.6 877.5L1026.1 872.7L1028.1 870.8L1030.6 868.6L1033.1 866.5L1035.1 865.1L1038.1 863.2L1041.1 861.5L1044.1 860.1L1047.1 858.8L1049.6 858L1054.6 856.5L1055.1 856.7L1057.1 856.3L1059.1 856.2L1062.1 856.3L1067.6 856.8L1070.6 857.2L1072.6 857.7L1074.6 858.5L1076.1 859.4L1077.1 860.2L1078.1 861.4L1079.6 864.3L1081.1 868.1L1081.6 869.7L1082.6 873.7L1084.1 880.9L1087.6 902L1088.1 904.6L1088.6 906.4L1089.1 907.4L1090.1 909.1L1090.6 909.8L1091.6 910.8L1092.1 911.1L1093.1 911.6L1094.6 912.2L1096.1 912.6L1098.1 912.8L1368.6 912.8L1383.3 912.9 L1383.3 912.77 L834.1 912.77Z" fill="#f7a9ac" stroke="none" stroke-width="0" stroke-linejoin="round" stroke-miterlimit="2.5" stroke-linecap="round" />
<path d="M834.1 912.77H1383.3" stroke="#f7a9ac" stroke-width="1.4"/>
<path d="M834.1 912.7L876.1 912.6L917.1 912.3L941.6 912L961.1 911.4L965.6 911.1L971.6 910.3L976.6 909.6L981.1 908.8L984.6 907.9L987.6 907L990.6 905.9L993.6 904.5L996.6 902.7L999.1 900.9L1001.6 898.8L1005.6 895.1L1009.1 891.7L1012.1 888.5L1020.6 878.7L1025.1 873.7L1029.1 869.9L1031.6 867.7L1033.6 866.2L1036.1 864.4L1038.6 862.9L1041.1 861.5L1044.1 860.1L1046.6 859L1048.6 858.3L1056.6 855.8L1058.6 855L1061.6 853.6L1063.6 852.5L1065.1 851.6L1066.6 850.2L1067.6 849L1068.6 847.5L1069.6 845.7L1071.1 842.5L1072.6 838.4L1074.1 833.1L1075.1 828.7L1076.6 820.8L1077.6 815.1L1080.6 796.3L1081.6 791.1L1082.6 786.7L1083.1 785.2L1084.1 783.5L1084.7 782.2L1085.1 783.2L1086.1 784.8L1086.6 786L1087.1 787.8L1088.1 792.4L1089.1 798.1L1092.1 819.9L1093.6 829.9L1095.1 839.4L1096.6 848L1098.6 858.3L1100.1 864.9L1101.6 870.4L1103.1 875L1105.1 880L1106.1 882.2L1107.6 885.1L1109.1 887.7L1110.6 889.9L1113.6 893.9L1115.1 895.6L1116.6 897.1L1119.6 899.6L1121.6 901L1123.6 902.3L1127.6 904.3L1130.1 905.3L1132.6 906.2L1138.1 907.8L1146.6 909.6L1150.1 910.2L1153.1 910.6L1157.1 910.9L1163.1 911.2L1182.6 911.8L1184.6 911.8L1186.1 911.6L1187.6 911.2L1188.6 910.8L1189.6 910.2L1190.6 909.5L1191.6 908.7L1192.6 907.6L1194.1 905.3L1195.6 902.1L1197.1 897.9L1198.6 892.8L1202.6 876.7L1204.6 869.6L1206.1 865.6L1207.1 863.6L1208.1 862L1209.1 860.8L1210.6 859.5L1212.1 858.5L1214.1 857.7L1216.1 857.2L1219.6 856.7L1223.1 856.5L1226.1 856.4L1228.6 856.7L1231.6 857.3L1234.6 858.3L1239.1 860.1L1241.6 861.2L1244.1 862.6L1247.1 864.5L1250.1 866.7L1252.6 868.6L1255.1 870.7L1257.6 873.1L1260.1 875.6L1265.6 881.6L1272.1 889.5L1275.1 892.9L1278.6 896.7L1281.1 899.2L1284.1 901.7L1287.6 904.1L1291.1 906L1294.6 907.6L1296.6 908.2L1298.6 908.7L1305.1 909.9L1312.1 910.8L1319.6 911.4L1331.1 912L1344.1 912.3L1366.6 912.7L1383.3 912.9" fill="none" stroke="#ec1c24" stroke-width="4.5" stroke-linejoin="miter" stroke-miterlimit="2.5" stroke-linecap="butt" />
<path d="M834.1 1007.3L867.1 1007.1L915.6 1006.7L937.6 1006.4L955.6 1005.9L963.1 1005.6L970.1 1004.8L976.6 1003.9L983.1 1002.4L989.1 1000.8L993.6 999.2L995.6 998.2L997.1 997.4L998.6 996.4L1000.1 995.2L1002.1 993.4L1005.1 990.5L1010.1 985.2L1013.6 981.1L1022.6 969.8L1026.1 965.8L1028.1 963.8L1030.6 961.5L1033.1 959.5L1035.1 958.1L1038.1 956.3L1041.1 954.8L1044.1 953.5L1047.6 952.3L1051.6 951.2L1054.6 950.6L1057.6 950.2L1061.6 950L1062.1 950.8L1063.1 950.9L1066.6 951.3L1073.1 951.5L1074.1 951.6L1075.6 951.9L1077.6 952.7L1079.6 953.8L1080.6 954.7L1081.6 956.1L1083.1 959.1L1084.1 961.7L1084.6 963.4L1085.6 967.7L1086.6 973L1089.6 994L1090.6 999L1091.6 1003.3L1092.1 1004.8L1092.6 1005.7L1093.6 1006.3L1094.6 1006.7L1096.6 1007.3L1098.1 1007.4L1369.6 1007.4L1383.3 1007.5 L1383.3 1007.37 L834.1 1007.37Z" fill="#f7a9ac" stroke="none" stroke-width="0" stroke-linejoin="round" stroke-miterlimit="2.5" stroke-linecap="round" />
<path d="M834.1 1007.37H1383.3" stroke="#f7a9ac" stroke-width="1.4"/>
<path d="M834.1 1007.3L869.1 1007.1L920.1 1006.7L943.1 1006.3L961.1 1005.7L965.6 1005.4L970.6 1004.8L975.1 1004.1L979.1 1003.4L984.1 1002.2L989.1 1000.8L992.6 999.6L995.6 998.2L997.6 997.1L1000.1 995.2L1003.1 992.5L1006.1 989.5L1009.1 986.3L1012.1 982.9L1021.6 971.1L1025.6 966.4L1027.6 964.3L1030.1 962L1032.6 959.9L1034.6 958.5L1037.6 956.6L1040.6 955.1L1043.6 953.7L1046.6 952.7L1051.1 951.3L1055.1 950.5L1058.1 950.2L1065.1 949.9L1067.6 949.5L1069.6 948.8L1071.1 948L1072.6 946.8L1073.6 945.7L1075.1 943.4L1076.6 939.9L1078.1 934.9L1079.1 930.7L1080.1 925.7L1081.6 917L1082.6 910.3L1085.1 891.8L1086.6 882L1087.1 879.2L1087.6 877.3L1088.1 876L1088.6 874.3L1089.1 875.6L1090.1 877.4L1090.6 879L1091.1 881.8L1092.6 893.5L1095.6 921.8L1098.1 941.5L1099.1 948L1100.1 953.6L1101.1 958.2L1102.6 963.8L1103.6 966.8L1105.1 970.9L1108.1 977.9L1110.6 982.9L1112.1 985.4L1113.6 987.7L1115.1 989.8L1116.6 991.7L1118.1 993.4L1119.6 994.8L1121.1 996.1L1123.1 997.5L1125.1 998.7L1127.1 999.7L1129.1 1000.5L1131.6 1001.4L1134.1 1002.1L1137.1 1002.9L1143.1 1003.9L1151.1 1005L1157.6 1005.6L1168.1 1006.4L1179.6 1007L1182.6 1007.1L1184.6 1007L1186.1 1006.8L1187.6 1006.2L1188.6 1005.6L1189.6 1004.7L1191.1 1002.9L1192.1 1001.2L1192.6 1000.1L1193.6 997.5L1194.6 994.3L1195.6 990.6L1199.6 972.6L1201.1 966.7L1202.1 963.5L1203.1 961L1204.1 959L1205.1 957.4L1206.6 955.8L1208.1 954.6L1210.1 953.6L1212.1 952.8L1215.6 951.9L1220.1 951L1223.6 950.6L1226.6 950.6L1229.1 950.8L1231.6 951.3L1234.6 952.2L1238.1 953.4L1240.6 954.5L1242.6 955.6L1244.6 956.8L1246.6 958.3L1250.6 961.6L1255.1 965.5L1258.1 968.3L1261.6 971.9L1264.1 974.7L1266.1 977.1L1272.1 984.9L1274.6 988L1278.1 992L1280.6 994.6L1283.1 996.7L1285.6 998.3L1289.1 1000.2L1293.1 1001.9L1295.1 1002.6L1297.6 1003.2L1304.1 1004.5L1311.6 1005.5L1318.6 1006.1L1329.1 1006.6L1342.6 1006.9L1366.1 1007.3L1383.3 1007.5" fill="none" stroke="#ec1c24" stroke-width="4.5" stroke-linejoin="miter" stroke-miterlimit="2.5" stroke-linecap="butt" />
<path d="M834.1 1101.8L868.6 1101.7L914.6 1101.3L936.6 1101.1L955.1 1100.6L962.6 1100.3L969.1 1099.7L975.6 1098.7L981.6 1097.4L988.6 1095.4L993.1 1093.8L996.1 1092.3L997.6 1091.3L999.1 1090.1L1002.1 1087.3L1005.6 1083.4L1008.1 1080.4L1018.1 1067.7L1023.6 1061.3L1026.1 1058.7L1029.1 1055.8L1032.1 1053.3L1034.6 1051.4L1037.1 1049.8L1040.1 1048.2L1043.1 1046.9L1045.6 1046L1049.1 1045L1053.1 1044.1L1056.1 1043.7L1058.6 1043.6L1060.6 1043.6L1062.6 1043.8L1067.1 1044.7L1067.6 1044.8L1068.1 1045.7L1077.1 1048.1L1080.6 1048.8L1082.1 1049.3L1083.1 1049.8L1084.1 1050.6L1085.1 1051.6L1086.6 1053.6L1087.6 1055.3L1088.6 1057.8L1089.6 1061L1090.6 1065.4L1091.1 1068.7L1092.1 1076.9L1093.3 1091.6L1094.1 1096.6L1094.6 1099L1095.1 1100.4L1095.6 1100.9L1096.6 1101.4L1098.1 1101.9L1099.1 1102L1383.3 1102 L1383.3 1101.97 L834.1 1101.97Z" fill="#f7a9ac" stroke="none" stroke-width="0" stroke-linejoin="round" stroke-miterlimit="2.5" stroke-linecap="round" />
<path d="M834.1 1101.97H1383.3" stroke="#f7a9ac" stroke-width="1.4"/>
<path d="M834.1 1101.8L871.6 1101.7L919.6 1101.3L943.6 1100.9L961.6 1100.4L966.1 1100L971.1 1099.4L975.1 1098.8L978.6 1098.1L983.6 1096.8L989.1 1095.2L992.6 1094L995.1 1092.8L997.1 1091.6L999.1 1090.1L1001.6 1087.8L1004.1 1085.1L1007.6 1081L1018.6 1067.1L1022.1 1063L1025.6 1059.2L1028.6 1056.3L1032.1 1053.3L1034.6 1051.4L1037.6 1049.5L1041.6 1047.5L1043.6 1046.7L1045.6 1046L1050.6 1044.6L1055.1 1043.8L1058.6 1043.6L1060.6 1043.6L1062.6 1043.8L1067.1 1044.7L1072.6 1046.3L1074.1 1046.5L1075.1 1046.6L1076.6 1046.5L1078.1 1046.1L1079.1 1045.5L1079.6 1045.1L1080.6 1043.9L1081.6 1042.2L1082.1 1041.1L1083.1 1038.4L1083.6 1036.8L1085.1 1030.3L1086.6 1022.1L1089.1 1004.2L1090.1 994.2L1091.6 975.9L1092.1 971.2L1092.6 967.6L1093.3 964.3L1093.6 966L1094.1 967.8L1094.6 971.8L1097.1 1007.5L1098.6 1025.2L1099.1 1029.8L1100.6 1041.5L1102.1 1050.6L1102.6 1055.2L1104.1 1061.8L1105.6 1066.8L1106.6 1069.4L1107.6 1071.7L1109.1 1074.9L1111.1 1078.8L1113.6 1082.9L1114.6 1084.3L1116.1 1086.1L1117.6 1087.7L1119.1 1089.2L1120.6 1090.4L1122.6 1091.9L1124.1 1092.8L1126.1 1093.9L1128.1 1094.8L1130.6 1095.7L1133.1 1096.5L1136.1 1097.2L1142.6 1098.5L1151.1 1099.7L1155.6 1100.1L1160.1 1100.5L1176.6 1101.2L1183.1 1101.3L1184.6 1101.1L1185.6 1100.7L1186.6 1100L1187.1 1099.5L1188.1 1098.1L1189.1 1096.1L1190.1 1093.3L1191.1 1089.6L1192.1 1085.2L1195.1 1069.4L1196.6 1062.5L1197.6 1058.9L1198.1 1057.4L1199.1 1055.1L1200.1 1053.5L1201.6 1051.8L1202.6 1051L1204.1 1050L1208.1 1047.8L1211.6 1046.2L1215.1 1045.1L1219.6 1044.1L1223.1 1043.6L1226.6 1043.5L1229.1 1043.7L1232.1 1044.3L1235.1 1045.1L1238.6 1046.3L1241.1 1047.4L1243.1 1048.5L1245.1 1049.9L1247.6 1051.8L1252.1 1055.5L1256.1 1059.1L1259.6 1062.5L1262.6 1065.6L1264.6 1068L1266.6 1070.5L1272.1 1078.3L1275.1 1082.3L1278.6 1086.7L1281.1 1089.4L1283.1 1091.2L1285.6 1093L1289.1 1094.9L1292.6 1096.3L1294.6 1097L1297.1 1097.7L1303.6 1099L1311.1 1100L1318.1 1100.7L1327.6 1101.1L1340.6 1101.4L1365.1 1101.8L1383.3 1102" fill="none" stroke="#ec1c24" stroke-width="4.5" stroke-linejoin="miter" stroke-miterlimit="2.5" stroke-linecap="butt" />
<path d="M834.1 1196.5L868.1 1196.4L923.1 1196L942.6 1195.8L958.6 1195.5L964.6 1195.2L971.6 1194.4L976.6 1193.5L982.1 1192.2L990.6 1189.9L994.6 1188.6L996.1 1187.9L997.6 1187.1L999.1 1186.2L1000.6 1185L1003.6 1182.1L1007.1 1178L1009.6 1174.8L1018.1 1163.1L1020.6 1160L1022.6 1157.6L1025.6 1154.5L1028.6 1151.6L1031.6 1149.1L1034.6 1146.9L1037.6 1144.9L1041.1 1142.8L1045.1 1140.7L1048.1 1139.4L1050.6 1138.6L1054.1 1137.9L1057.6 1137.4L1060.6 1137.3L1063.1 1137.4L1066.1 1137.9L1070.6 1139.2L1074.6 1140.7L1075.1 1141.2L1078.6 1143.4L1084.1 1147.1L1085.6 1147.9L1088.1 1149L1089.6 1149.8L1090.6 1150.6L1091.6 1151.9L1092.6 1153.7L1093.1 1154.9L1093.6 1156.3L1094.1 1158.6L1096.1 1170.9L1097.1 1178L1098.1 1186.5L1098.6 1189.6L1099.1 1191.9L1099.6 1193.8L1100.1 1195.2L1100.6 1195.7L1101.6 1196.1L1102.6 1196.4L1104.1 1196.6L1367.6 1196.6L1383.3 1196.7 L1383.3 1196.57 L834.1 1196.57Z" fill="#f7a9ac" stroke="none" stroke-width="0" stroke-linejoin="round" stroke-miterlimit="2.5" stroke-linecap="round" />
<path d="M834.1 1196.57H1383.3" stroke="#f7a9ac" stroke-width="1.4"/>
<path d="M834.1 1196.5L867.1 1196.4L919.6 1196L953.6 1195.6L960.6 1195.4L965.1 1195.1L971.6 1194.4L976.6 1193.5L983.1 1191.9L989.6 1190.2L992.6 1189.3L994.6 1188.6L996.6 1187.7L998.1 1186.8L999.6 1185.8L1001.1 1184.5L1002.6 1183.1L1006.1 1179.3L1009.1 1175.4L1016.6 1165.1L1019.6 1161.2L1023.1 1157.1L1026.6 1153.5L1028.6 1151.6L1031.1 1149.5L1033.6 1147.6L1036.1 1145.8L1038.6 1144.3L1041.1 1142.8L1044.1 1141.2L1046.6 1140L1048.6 1139.2L1050.6 1138.6L1055.1 1137.8L1059.6 1137.3L1061.6 1137.3L1063.6 1137.5L1065.6 1137.8L1068.6 1138.6L1071.6 1139.6L1074.1 1140.5L1077.6 1142.1L1082.1 1144.8L1083.6 1145.5L1085.1 1145.9L1086.1 1145.9L1086.6 1145.7L1087.1 1145.4L1087.6 1145L1088.1 1144.4L1088.6 1143.6L1089.1 1142.5L1089.6 1141.1L1091.1 1135.7L1091.6 1133.3L1092.6 1127.2L1093.1 1123.4L1094.1 1111.8L1094.6 1104L1096.1 1076.1L1096.6 1068.8L1097.1 1065.3L1097.6 1064L1098 1062.6L1099.1 1070.4L1099.6 1078.9L1100.1 1091.8L1100.6 1101.5L1102.1 1127L1103.1 1137.4L1104.1 1145.4L1105.1 1152L1106.6 1160.8L1108.1 1168L1109.6 1173.7L1111.1 1178.1L1112.6 1181.5L1113.6 1183.2L1114.6 1184.7L1115.6 1186L1116.6 1187.1L1117.6 1188.1L1119.1 1189.2L1121.6 1190.6L1125.1 1192L1130.1 1193.4L1135.6 1194.5L1140.6 1195.1L1151.6 1195.7L1164.1 1196L1178.6 1196.1L1180.1 1196L1181.6 1195.7L1182.6 1195.1L1183.6 1193.9L1184.6 1192L1185.6 1189.1L1186.1 1187.2L1187.1 1182.4L1189.6 1167.9L1191.1 1160.7L1191.6 1158.8L1192.6 1155.9L1193.6 1153.7L1195.1 1151.4L1196.1 1150.2L1197.6 1148.6L1199.1 1147.2L1201.1 1145.6L1203.6 1143.8L1206.1 1142.1L1208.1 1141L1210.1 1140L1213.1 1138.9L1217.6 1138L1222.6 1137.3L1226.6 1137.1L1230.1 1137.4L1233.6 1138.1L1238.1 1139.3L1241.6 1140.5L1244.1 1141.7L1247.1 1143.5L1250.6 1146L1253.6 1148.4L1256.1 1150.7L1259.1 1153.8L1262.6 1157.8L1265.6 1161.6L1268.1 1165L1271.6 1170.1L1278.6 1181L1281.1 1184.3L1283.6 1186.8L1287.1 1189.7L1290.1 1191.6L1292.6 1192.7L1294.1 1193.2L1296.1 1193.7L1301.6 1194.5L1308.6 1195.1L1316.6 1195.6L1327.1 1196L1340.1 1196.2L1383.3 1196.7" fill="none" stroke="#ec1c24" stroke-width="4.5" stroke-linejoin="miter" stroke-miterlimit="2.5" stroke-linecap="butt" />
<path d="M834.1 1291.1L924.6 1290.8L945.1 1290.6L960.1 1290.3L963.6 1290.2L967.1 1289.9L978.1 1288.6L985.6 1287.4L991.6 1286.1L995.6 1284.8L997.1 1284.2L998.6 1283.4L1000.1 1282.5L1001.1 1281.7L1002.6 1280.3L1003.6 1279.2L1005.1 1277.2L1007.1 1274L1009.1 1270.3L1014.6 1259.5L1017.1 1255.1L1019.1 1252L1021.1 1249.2L1023.6 1246.1L1026.1 1243.5L1029.1 1240.8L1033.1 1237.8L1037.1 1235.2L1040.6 1233.4L1045.1 1231.6L1048.1 1230.7L1050.6 1230.3L1054.1 1230L1059.6 1229.9L1061.6 1229.9L1063.6 1230.1L1065.6 1230.4L1068.1 1231L1074.1 1232.9L1076.6 1233.8L1079.1 1235L1082.6 1237L1087.6 1240.6L1088.1 1242.1L1089.6 1242.8L1091.1 1244L1093.6 1246.4L1095.1 1248.1L1096.1 1249.6L1097.1 1251.3L1098.6 1254.5L1099.6 1257.3L1100.6 1261.1L1101.1 1263.9L1102.1 1271.2L1102.6 1275.6L1103.1 1281.5L1103.6 1286.2L1104.1 1287.9L1104.6 1289.2L1105.1 1290.1L1105.6 1290.5L1107.1 1291L1109.1 1291.2L1338.1 1291.2L1383.3 1291.4 L1383.3 1291.17 L834.1 1291.17Z" fill="#f7a9ac" stroke="none" stroke-width="0" stroke-linejoin="round" stroke-miterlimit="2.5" stroke-linecap="round" />
<path d="M834.1 1291.17H1383.3" stroke="#f7a9ac" stroke-width="1.4"/>
<path d="M834.1 1291.1L923.1 1290.8L958.6 1290.4L963.6 1290.2L969.1 1289.7L977.6 1288.7L984.1 1287.7L990.6 1286.4L993.1 1285.7L995.6 1284.8L997.6 1284L999.1 1283.1L1000.6 1282.1L1002.1 1280.8L1004.1 1278.6L1006.1 1275.7L1008.1 1272.2L1013.6 1261.4L1016.6 1256L1019.6 1251.2L1021.1 1249.2L1022.6 1247.3L1024.6 1245.1L1027.1 1242.6L1029.6 1240.4L1032.6 1238.1L1035.6 1236.1L1038.1 1234.6L1040.6 1233.4L1043.6 1232.2L1046.1 1231.3L1048.1 1230.7L1050.1 1230.3L1052.6 1230.1L1057.6 1229.9L1061.1 1229.9L1063.6 1230.1L1066.6 1230.7L1070.1 1231.6L1073.6 1232.7L1076.1 1233.6L1078.6 1234.7L1081.1 1236.1L1083.6 1237.7L1092.6 1244.3L1093.6 1244.8L1094.1 1244.8L1095.1 1244.3L1096.1 1243.6L1096.6 1242.9L1097.1 1241.5L1098.1 1236.7L1098.6 1232.8L1099.1 1223.5L1100.6 1182.9L1101.1 1175.8L1101.6 1170.9L1102.6 1165.1L1104.1 1204.9L1105.6 1231L1106.6 1244.7L1108.6 1263.1L1109.6 1269.6L1110.1 1272.3L1111.6 1278.8L1112.6 1281.7L1113.6 1283.7L1114.6 1285.1L1116.1 1286.5L1117.1 1287.1L1118.1 1287.6L1119.6 1288.2L1121.1 1288.7L1125.1 1289.5L1130.6 1290.1L1137.1 1290.6L1150.6 1290.8L1173.1 1290.9L1175.6 1290.8L1176.6 1290.5L1177.1 1290.3L1178.1 1289.6L1178.6 1289L1179.1 1288.1L1180.1 1285.6L1180.6 1283.9L1181.6 1279.6L1184.6 1263.5L1185.6 1259.2L1186.6 1255.8L1187.6 1253.3L1188.6 1251.3L1190.1 1248.9L1191.6 1246.9L1193.1 1245.2L1194.6 1243.7L1196.6 1241.8L1198.6 1240.2L1201.1 1238.4L1203.6 1236.8L1206.1 1235.3L1208.1 1234.3L1209.6 1233.6L1211.6 1233L1214.1 1232.3L1217.1 1231.6L1222.1 1230.9L1224.6 1230.7L1226.6 1230.6L1230.6 1230.9L1234.6 1231.6L1239.1 1232.7L1241.1 1233.3L1242.6 1233.9L1245.6 1235.5L1249.6 1238.1L1254.6 1241.8L1258.1 1244.8L1261.1 1247.7L1264.1 1251.1L1266.6 1254.3L1268.6 1257.3L1270.6 1260.7L1272.6 1264.4L1274.6 1268.5L1278.1 1276.3L1279.6 1279.1L1280.6 1280.7L1281.6 1282L1282.6 1283.1L1284.6 1285L1286.6 1286.3L1289.1 1287.5L1291.1 1288.2L1293.6 1288.9L1298.1 1289.8L1303.1 1290.3L1311.1 1290.7L1319.6 1291L1339.1 1291.2L1383.3 1291.4" fill="none" stroke="#ec1c24" stroke-width="4.5" stroke-linejoin="miter" stroke-miterlimit="2.5" stroke-linecap="butt" />
<path d="M1062.2 723.77V818.17M1072.7 723.77V818.17M1065.76 819.67V912.77M1076.24 819.67V912.77M1069.32 914.27V1007.37M1079.78 914.27V1007.37M1072.88 1008.87V1101.97M1083.32 1008.87V1101.97M1076.44 1103.47V1196.57M1086.86 1103.47V1196.57M1080 1198.07V1291.17M1090.4 1198.07V1291.17" stroke="#000" stroke-width="2" stroke-dasharray="4.2 2.1" fill="none"/>
<path d="M892.2 798.1V1320" stroke="#000" stroke-width="3" fill="none"/>
<path d="M887.4 1318.2H897L892.2 1336.3Z" fill="#000"/>
<text x="862.8" y="781.2" font-size="33.5" text-anchor="start" font-family="Liberation Sans" letter-spacing="0.9">Time</text>
<text x="997" y="1341" font-size="33.5" text-anchor="start" font-family="Liberation Sans" >Chirped</text>
<text x="1124.1" y="1341.1" font-size="34.5" text-anchor="start" font-family="Liberation Serif" font-style="italic">&#937;</text>
<text x="1147" y="1341" font-size="33.5" text-anchor="start" font-family="Liberation Sans" >(t)</text>
<text x="99.7" y="544.1" font-size="33.5" text-anchor="end" font-family="Liberation Sans" >0</text>
<text x="99.7" y="170.65" font-size="33.5" text-anchor="end" font-family="Liberation Sans" >0.4</text>
<text x="223.13" y="572.1" font-size="33.5" text-anchor="middle" font-family="Liberation Sans" >&#8211;5</text>
<text x="355.79" y="572.1" font-size="33.5" text-anchor="middle" font-family="Liberation Sans" >0</text>
<text x="488.45" y="572.1" font-size="33.5" text-anchor="middle" font-family="Liberation Sans" >5</text>
<text x="622.1" y="572.1" font-size="33.5" text-anchor="middle" font-family="Liberation Sans" >10</text>
<text x="374" y="612.3" font-size="37.5" text-anchor="start" font-family="Liberation Serif" >&#969;</text>
<text x="822.1" y="544.1" font-size="33.5" text-anchor="end" font-family="Liberation Sans" >0</text>
<text x="822.1" y="450.74" font-size="33.5" text-anchor="end" font-family="Liberation Sans" >0.1</text>
<text x="822.1" y="357.37" font-size="33.5" text-anchor="end" font-family="Liberation Sans" >0.2</text>
<text x="822.1" y="264.01" font-size="33.5" text-anchor="end" font-family="Liberation Sans" >0.3</text>
<text x="822.1" y="170.65" font-size="33.5" text-anchor="end" font-family="Liberation Sans" >0.4</text>
<text x="822.1" y="77.28" font-size="33.5" text-anchor="end" font-family="Liberation Sans" >0.5</text>
<text x="945.53" y="572.1" font-size="33.5" text-anchor="middle" font-family="Liberation Sans" >&#8211;5</text>
<text x="1078.19" y="572.1" font-size="33.5" text-anchor="middle" font-family="Liberation Sans" >0</text>
<text x="1210.85" y="572.1" font-size="33.5" text-anchor="middle" font-family="Liberation Sans" >5</text>
<text x="1344.5" y="572.1" font-size="33.5" text-anchor="middle" font-family="Liberation Sans" >10</text>
<text x="1096.4" y="612.3" font-size="37.5" text-anchor="start" font-family="Liberation Serif" >&#969;</text>
<text x="99.7" y="1301.37" font-size="33.5" text-anchor="end" font-family="Liberation Sans" >0</text>
<text x="99.7" y="1143.7" font-size="33.5" text-anchor="end" font-family="Liberation Sans" >0.4</text>
<text x="99.7" y="986.03" font-size="33.5" text-anchor="end" font-family="Liberation Sans" >0.8</text>
<text x="99.7" y="828.37" font-size="33.5" text-anchor="end" font-family="Liberation Sans" >1.2</text>
<text x="99.7" y="670.7" font-size="33.5" text-anchor="end" font-family="Liberation Sans" >1.6</text>
<text x="223.13" y="1408.2" font-size="33.5" text-anchor="middle" font-family="Liberation Sans" >&#8211;5</text>
<text x="355.79" y="1408.2" font-size="33.5" text-anchor="middle" font-family="Liberation Sans" >0</text>
<text x="488.45" y="1408.2" font-size="33.5" text-anchor="middle" font-family="Liberation Sans" >5</text>
<text x="622.1" y="1408.2" font-size="33.5" text-anchor="middle" font-family="Liberation Sans" >10</text>
<text x="374" y="1447.7" font-size="37.5" text-anchor="start" font-family="Liberation Serif" >&#969;</text>
<text x="822.1" y="1301.37" font-size="33.5" text-anchor="end" font-family="Liberation Sans" >0</text>
<text x="822.1" y="1143.7" font-size="33.5" text-anchor="end" font-family="Liberation Sans" >0.4</text>
<text x="822.1" y="986.03" font-size="33.5" text-anchor="end" font-family="Liberation Sans" >0.8</text>
<text x="822.1" y="828.37" font-size="33.5" text-anchor="end" font-family="Liberation Sans" >1.2</text>
<text x="822.1" y="670.7" font-size="33.5" text-anchor="end" font-family="Liberation Sans" >1.6</text>
<text x="945.53" y="1408.2" font-size="33.5" text-anchor="middle" font-family="Liberation Sans" >&#8211;5</text>
<text x="1078.19" y="1408.2" font-size="33.5" text-anchor="middle" font-family="Liberation Sans" >0</text>
<text x="1210.85" y="1408.2" font-size="33.5" text-anchor="middle" font-family="Liberation Sans" >5</text>
<text x="1344.5" y="1408.2" font-size="33.5" text-anchor="middle" font-family="Liberation Sans" >10</text>
<text x="1096.4" y="1447.7" font-size="37.5" text-anchor="start" font-family="Liberation Serif" >&#969;</text>
<text x="-2" y="31" font-size="43" text-anchor="start" font-family="Liberation Sans" font-weight="bold">a</text>
<text x="715" y="31" font-size="43" text-anchor="start" font-family="Liberation Sans" font-weight="bold">b</text>
<text x="-2" y="665.5" font-size="43" text-anchor="start" font-family="Liberation Sans" font-weight="bold">c</text>
<text x="715" y="665.5" font-size="43" text-anchor="start" font-family="Liberation Sans" font-weight="bold">d</text>
<text transform="translate(27.8,1015) rotate(-90)" font-size="33.5" text-anchor="middle" font-family="Liberation Sans">Arbitrary offset</text>
<text transform="translate(744.8,1015) rotate(-90)" font-size="33.5" text-anchor="middle" font-family="Liberation Sans">Arbitrary offset</text>
</svg></body></html>
